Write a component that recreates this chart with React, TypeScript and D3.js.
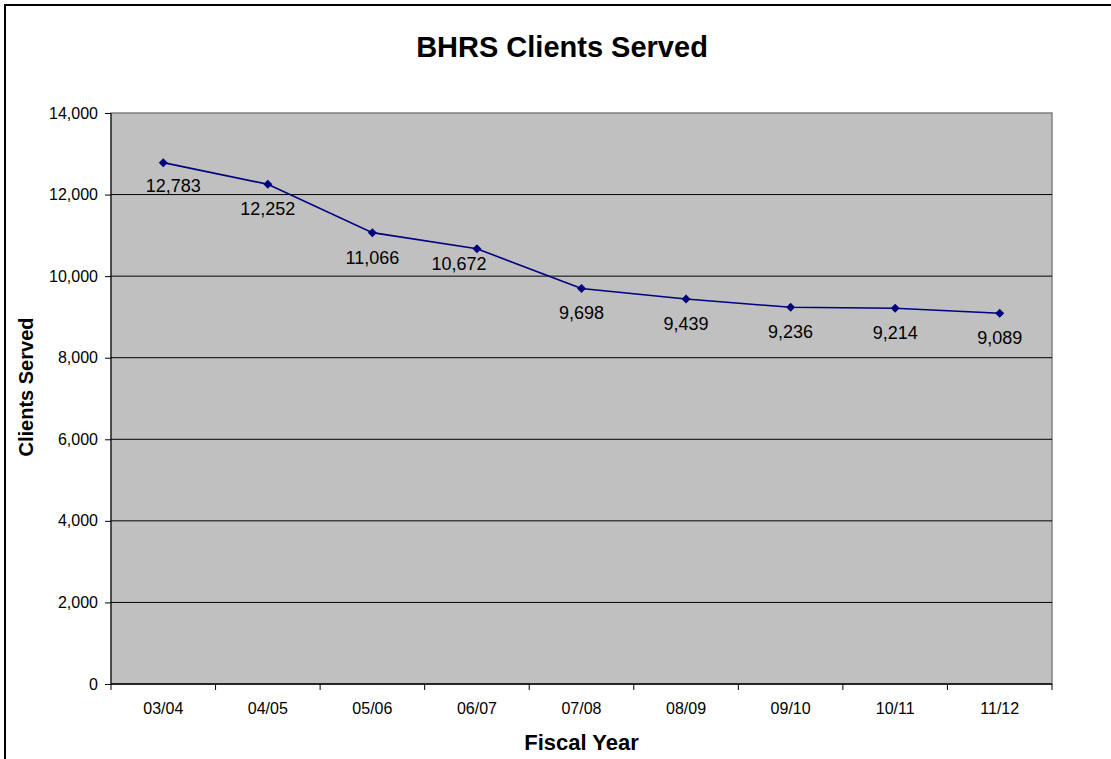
import { useEffect, useRef } from 'react'
import * as d3 from 'd3'

const fiscalYears = ['03/04', '04/05', '05/06', '06/07', '07/08', '08/09', '09/10', '10/11', '11/12']
const clientsServed = [12783, 12252, 11066, 10672, 9698, 9439, 9236, 9214, 9089]
const yTicks = [0, 2000, 4000, 6000, 8000, 10000, 12000, 14000]

const WIDTH = 1111
const HEIGHT = 759

export default function App() {
  const svgRef = useRef<SVGSVGElement | null>(null)

  useEffect(() => {
    const svgElement = svgRef.current
    if (!svgElement) return

    const svg = d3.select(svgElement)
    svg.selectAll('*').remove()

    const font = "'Liberation Sans', Arial, sans-serif"
    const plot = { left: 111, top: 113, right: 1052, bottom: 684 }

    const x = d3.scaleBand<string>().domain(fiscalYears).range([plot.left, plot.right]).paddingInner(0).paddingOuter(0)
    const y = d3.scaleLinear().domain([0, 14000]).range([plot.bottom, plot.top])
    const cx = (c: string) => (x(c) ?? 0) + x.bandwidth() / 2

    // outer chart border (cropped on right / bottom)
    svg.append('rect')
      .attr('x', 5).attr('y', 5)
      .attr('width', WIDTH + 20).attr('height', HEIGHT + 20)
      .attr('fill', '#fff').attr('stroke', '#000').attr('stroke-width', 2)

    svg.append('text')
      .attr('x', 562).attr('y', 57)
      .attr('text-anchor', 'middle')
      .attr('font-family', font).attr('font-size', 29).attr('font-weight', 'bold')
      .text('BHRS Clients Served')

    // plot area
    svg.append('rect')
      .attr('x', plot.left).attr('y', plot.top)
      .attr('width', plot.right - plot.left).attr('height', plot.bottom - plot.top)
      .attr('fill', '#c0c0c0').attr('stroke', '#808080').attr('stroke-width', 1.5)

    svg.append('g')
      .selectAll('line')
      .data(yTicks.filter((t) => t > 0 && t < 14000))
      .join('line')
      .attr('x1', plot.left).attr('x2', plot.right)
      .attr('y1', (d) => y(d)).attr('y2', (d) => y(d))
      .attr('stroke', '#000').attr('stroke-width', 1)

    // y axis
    const yAxis = d3.axisLeft(y).tickValues(yTicks).tickSize(6).tickPadding(7).tickFormat((d) => d3.format(',')(d as number))
    const gy = svg.append('g').attr('transform', `translate(${plot.left},0)`).call(yAxis)
    gy.select('.domain').attr('stroke', '#000').attr('d', `M0,${plot.top}V${plot.bottom}`)
    gy.selectAll('text').attr('font-family', font).attr('font-size', 16).attr('fill', '#000')

    // x axis: ticks on category boundaries, labels centred
    const gx = svg.append('g')
    gx.append('line')
      .attr('x1', plot.left).attr('x2', plot.right)
      .attr('y1', plot.bottom).attr('y2', plot.bottom)
      .attr('stroke', '#000').attr('stroke-width', 1.5)
    const boundaries = [...fiscalYears.map((c) => x(c) ?? 0), plot.right]
    gx.selectAll('line.tick')
      .data(boundaries)
      .join('line')
      .attr('class', 'tick')
      .attr('x1', (d) => d).attr('x2', (d) => d)
      .attr('y1', plot.bottom).attr('y2', plot.bottom + 6)
      .attr('stroke', '#000')
    gx.selectAll('text')
      .data(fiscalYears)
      .join('text')
      .attr('x', (d) => cx(d)).attr('y', 714)
      .attr('text-anchor', 'middle')
      .attr('font-family', font).attr('font-size', 16)
      .text((d) => d)

    svg.append('text')
      .attr('x', (plot.left + plot.right) / 2).attr('y', 750)
      .attr('text-anchor', 'middle')
      .attr('font-family', font).attr('font-size', 22).attr('font-weight', 'bold')
      .text('Fiscal Year')

    svg.append('text')
      .attr('transform', `translate(33,387) rotate(-90)`)
      .attr('text-anchor', 'middle')
      .attr('font-family', font).attr('font-size', 20).attr('font-weight', 'bold')
      .text('Clients Served')

    // series
    const data = fiscalYears.map((c, i) => ({ c, v: clientsServed[i] }))
    const line = d3.line<{ c: string; v: number }>().x((d) => cx(d.c)).y((d) => y(d.v))
    svg.append('path')
      .datum(data)
      .attr('fill', 'none').attr('stroke', '#000080').attr('stroke-width', 1.6)
      .attr('d', line)

    svg.append('g')
      .selectAll('path')
      .data(data)
      .join('path')
      .attr('transform', (d) => `translate(${cx(d.c)},${y(d.v)})`)
      .attr('d', 'M0,-4.5L4.5,0L0,4.5L-4.5,0Z')
      .attr('fill', '#000080')

    // data labels (a couple were nudged by hand in the original)
    const nudge: Record<string, [number, number]> = { '03/04': [10, -2], '06/07': [-18, -10] }
    svg.append('g')
      .selectAll('text')
      .data(data)
      .join('text')
      .attr('x', (d) => cx(d.c) + (nudge[d.c]?.[0] ?? 0))
      .attr('y', (d) => y(d.v) + 31 + (nudge[d.c]?.[1] ?? 0))
      .attr('text-anchor', 'middle')
      .attr('font-family', font).attr('font-size', 18)
      .text((d) => d3.format(',')(d.v))
  }, [])

  return (
    <svg
      ref={svgRef}
      width={WIDTH}
      height={HEIGHT}
      style={{ position: 'absolute', left: 0, top: 0, display: 'block' }}
    />
  )
}
